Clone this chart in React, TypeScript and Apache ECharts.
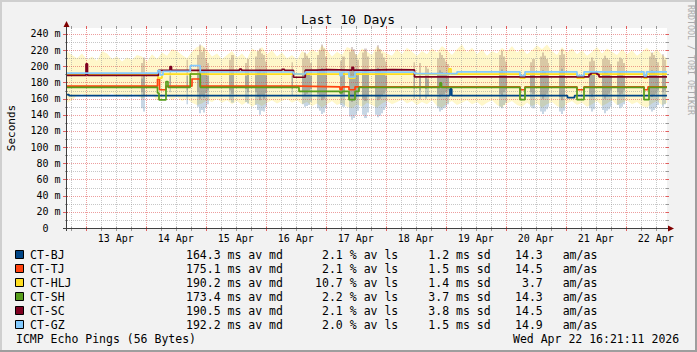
import React, { useEffect, useRef } from 'react';
import * as echarts from 'echarts';

const FONT = '"DejaVu Sans Mono", monospace';

const TITLE = 'Last 10 Days';
const Y_TITLE = 'Seconds';
const WATERMARK = 'RRDTOOL / TOBI OETIKER';
const FOOT_LEFT = 'ICMP Echo Pings (56 Bytes)';
const FOOT_RIGHT = 'Wed Apr 22 16:21:11 2026';

// x = hours since window start (Apr 12 ~16:30), 240 h wide
const SPAN_HOURS = 240;
const FIRST_MIDNIGHT = 7.5;
const Y_MAX = 247.4;
const Y_TICK = 20;
const SMOKE_STEP = 2;

const dayLabels = ['13 Apr', '14 Apr', '15 Apr', '16 Apr', '17 Apr', '18 Apr', '19 Apr', '20 Apr', '21 Apr', '22 Apr'];

const hosts = ['CT-BJ', 'CT-TJ', 'CT-HLJ', 'CT-SH', 'CT-SC', 'CT-GZ'];
const hostColors = ['#004586', '#ff420e', '#ffde20', '#579d1c', '#7e0021', '#83caff'];
const medianMs = ['164.3', '175.1', '190.2', '173.4', '190.5', '192.2'];
const lossPct = ['2.1', '2.1', '10.7', '2.2', '2.1', '2.0'];
const sdMs = ['1.2', '1.5', '1.4', '3.7', '3.8', '1.5'];
const amAs = ['14.3', '14.5', '3.7', '14.3', '14.5', '14.9'];

// median lines: [hour, ms] (value holds until next point)
const bjMedian = [[0, 165.0], [0.8, 163.7], [153.2, 172.0], [153.9, 163.7], [200.2, 161.2], [203.0, 163.7], [240, 163.7]];
const tjMedian = [[0, 175.4], [36.2, 184.3], [37.0, 171.0], [39.6, 175.4], [50.0, 184.3], [53.3, 175.4], [92.8, 174.6], [109.2, 171.2], [110.0, 174.6], [112.8, 171.0], [115.2, 174.6], [181.2, 171.0], [183.2, 174.6], [204.0, 171.0], [206.8, 174.6], [230.8, 171.0], [232.4, 174.6], [240, 174.6]];
const hljMedian = [[0, 190.3], [36.4, 185.5], [38.0, 190.3], [112.8, 185.5], [115.2, 190.3], [152.8, 197.0], [153.6, 190.3], [181.2, 185.5], [183.2, 190.3], [204.0, 185.5], [206.8, 190.3], [230.8, 185.5], [232.0, 190.3], [240, 190.3]];
const shMedian = [[0, 174.0], [36.2, 167.0], [36.8, 158.5], [39.6, 181.2], [40.4, 174.0], [49.3, 190.5], [53.3, 174.0], [92.8, 169.0], [109.2, 167.0], [110.0, 169.0], [112.8, 158.7], [115.2, 169.0], [116.8, 174.0], [149.2, 179.4], [149.8, 174.0], [181.2, 158.7], [183.2, 174.0], [204.0, 158.7], [206.8, 174.0], [230.8, 158.7], [232.8, 174.0], [240, 174.0]];
const scMedian = [[0, 188.8], [7.6, 203.0], [8.2, 188.8], [36.6, 195.0], [41.2, 199.8], [41.8, 195.0], [69.0, 196.5], [69.8, 195.0], [86.0, 196.2], [87.0, 195.0], [90.6, 186.5], [95.3, 195.2], [100.0, 196.0], [104.0, 195.2], [114.0, 198.7], [114.6, 195.4], [121.0, 196.0], [130.0, 195.5], [139.0, 187.0], [208.8, 190.0], [209.6, 192.0], [212.0, 190.0], [212.8, 187.0], [240, 187.0]];
const gzMedian = [[0, 191.5], [36.4, 194.8], [37.2, 189.5], [38.4, 193.8], [49.3, 200.8], [53.3, 193.0], [90.6, 190.5], [95.3, 193.0], [109.2, 188.4], [110.0, 193.0], [112.8, 186.8], [115.2, 192.8], [139.0, 191.0], [156.0, 193.2], [181.2, 188.4], [183.2, 193.2], [204.0, 188.4], [206.8, 193.2], [230.8, 188.2], [231.8, 193.2], [240, 193.2]];
const medians = [bjMedian, tjMedian, hljMedian, shMedian, scMedian, gzMedian];

// CT-HLJ smoke band, one value every SMOKE_STEP hours
const hljSmokeHi = [
  218, 214, 210, 216, 208, 212, 207, 219, 216, 209,
  212, 206, 211, 208, 214, 212, 206, 215, 209, 217,
  213, 221, 219, 214, 210, 218, 224, 226, 220, 212,
  216, 209, 214, 219, 211, 216, 209, 222, 218, 224,
  215, 220, 212, 217, 210, 214, 208, 219, 215, 221,
  217, 226, 220, 212, 218, 214, 224, 221, 213, 222,
  218, 214, 225, 219, 216, 213, 221, 215, 223, 218,
  213, 219, 215, 222, 217, 225, 220, 214, 221, 227,
  217, 223, 215, 221, 213, 219, 216, 223, 218, 225,
  217, 222, 215, 220, 226, 221, 227, 219, 214, 224,
  217, 222, 215, 220, 213, 218, 224, 216, 222, 218,
  214, 221, 215, 220, 213, 218, 223, 216, 221, 214,
  210,
];
const hljSmokeLo = [
  155, 158, 164, 166, 163, 165, 162, 166, 164, 167,
  163, 165, 161, 166, 164, 160, 163, 165, 158, 160,
  164, 158, 162, 157, 160, 155, 152, 154, 158, 156,
  160, 155, 158, 153, 157, 152, 156, 150, 154, 151,
  155, 158, 154, 157, 160, 155, 158, 153, 156, 151,
  154, 149, 153, 157, 152, 155, 150, 148, 153, 150,
  155, 152, 149, 154, 157, 153, 156, 159, 154, 157,
  152, 156, 153, 158, 151, 149, 154, 157, 152, 155,
  158, 153, 156, 151, 155, 158, 152, 149, 154, 157,
  152, 150, 155, 151, 154, 149, 153, 156, 151, 148,
  154, 157, 152, 155, 150, 153, 157, 151, 154, 158,
  152, 155, 158, 153, 156, 151, 149, 154, 157, 152,
  155,
];

// smoke bursts: [fromHour, toHour, lowMs, highMs]
const scSmoke = [
  [29.6, 30.4, 168, 204], [30.4, 31.2, 164, 211], [41.0, 41.6, 176, 199], [47.8, 48.4, 170, 208],
  [52.0, 52.8, 168, 214], [52.8, 53.6, 160, 227], [53.6, 54.4, 164, 218], [54.4, 55.2, 161, 223], [55.2, 56.0, 167, 210], [56.0, 56.8, 170, 204],
  [64.8, 65.6, 170, 208], [65.6, 66.8, 166, 214], [71.2, 72.0, 172, 204], [72.0, 72.8, 168, 209],
  [75.2, 76.0, 168, 212], [76.0, 76.8, 162, 219], [76.8, 77.6, 158, 222], [77.6, 78.4, 163, 216], [78.4, 79.2, 160, 214], [79.2, 80.0, 167, 206],
  [89.8, 90.4, 172, 205],
  [94.0, 94.8, 168, 210], [94.8, 95.6, 164, 217], [95.6, 96.4, 166, 213], [96.4, 97.2, 170, 210], [97.2, 98.0, 172, 204],
  [100.0, 100.8, 166, 214], [100.8, 101.6, 162, 220], [101.6, 102.4, 158, 227], [102.4, 103.2, 160, 222], [103.2, 104.0, 165, 212],
  [109.2, 110.0, 168, 207], [110.0, 111.2, 165, 212],
  [112.8, 113.6, 160, 218], [113.6, 114.4, 156, 224], [114.4, 115.2, 158, 221], [115.2, 116.0, 161, 215], [116.0, 116.8, 166, 208],
  [118.0, 118.8, 160, 217], [118.8, 120.0, 157, 222], [120.0, 120.8, 163, 212],
  [123.2, 124.0, 162, 218], [124.0, 124.8, 158, 226], [124.8, 125.6, 160, 221], [125.6, 126.4, 163, 216], [126.4, 127.2, 166, 211], [127.2, 128.0, 170, 206],
  [138.6, 139.2, 172, 205], [140.8, 141.6, 170, 204], [143.2, 144.0, 172, 200], [144.0, 144.8, 174, 197],
  [148.0, 148.8, 166, 210], [148.8, 149.6, 162, 217], [149.6, 150.4, 164, 214], [150.4, 151.2, 165, 210], [151.2, 152.0, 168, 206], [152.0, 152.8, 170, 203],
  [172.8, 173.6, 166, 214], [173.6, 174.4, 164, 219], [174.4, 175.2, 168, 212], [175.2, 176.0, 171, 206],
  [185.2, 186.0, 168, 205], [186.0, 187.2, 166, 209],
  [189.2, 190.0, 164, 212], [190.0, 190.8, 160, 217], [190.8, 191.6, 163, 213], [191.6, 192.4, 166, 209], [192.4, 192.8, 170, 204],
  [196.8, 197.6, 162, 214], [197.6, 198.4, 158, 221], [198.4, 199.2, 163, 215],
  [208.8, 209.6, 166, 206], [209.6, 210.4, 162, 211], [210.4, 211.2, 166, 207],
  [214.0, 214.8, 164, 209], [214.8, 215.6, 160, 213], [215.6, 216.4, 163, 210], [216.4, 217.2, 166, 208], [217.2, 218.0, 170, 203],
  [220.0, 220.8, 168, 206], [220.8, 221.6, 165, 211], [221.6, 222.4, 166, 209], [222.4, 223.2, 170, 204],
  [232.8, 233.6, 165, 212], [233.6, 234.4, 162, 217], [234.4, 235.2, 164, 214], [235.2, 236.0, 166, 210], [236.0, 236.8, 170, 205],
  [238.0, 238.8, 168, 215], [238.8, 239.6, 170, 208],
];
const bjSmoke = [
  [29.6, 30.4, 148, 185], [30.4, 31.2, 144, 190], [41.0, 41.6, 168, 188], [47.8, 48.4, 153, 188],
  [52.0, 52.8, 150, 190], [52.8, 53.6, 142, 197], [53.6, 54.4, 146, 193], [54.4, 55.2, 143, 195], [55.2, 56.0, 149, 191], [56.0, 56.8, 153, 188],
  [64.8, 65.6, 158, 189], [65.6, 66.8, 155, 192], [71.2, 72.0, 156, 188], [72.0, 72.8, 154, 191],
  [75.2, 76.0, 152, 189], [76.0, 76.8, 146, 193], [76.8, 77.6, 140, 196], [77.6, 78.4, 145, 192], [78.4, 79.2, 144, 193], [79.2, 80.0, 150, 189],
  [89.8, 90.4, 164, 188],
  [94.0, 94.8, 153, 190], [94.8, 95.6, 150, 194], [95.6, 96.4, 151, 192], [96.4, 97.2, 152, 190], [97.2, 98.0, 156, 188],
  [100.0, 100.8, 148, 192], [100.8, 101.6, 145, 195], [101.6, 102.4, 141, 198], [102.4, 103.2, 143, 196], [103.2, 104.0, 148, 191],
  [109.2, 110.0, 152, 189], [110.0, 111.2, 150, 192],
  [112.8, 113.6, 138, 194], [113.6, 114.4, 134, 197], [114.4, 115.2, 136, 196], [115.2, 116.0, 140, 192], [116.0, 116.8, 145, 189],
  [118.0, 118.8, 140, 193], [118.8, 120.0, 136, 196], [120.0, 120.8, 143, 191],
  [123.2, 124.0, 140, 194], [124.0, 124.8, 137, 198], [124.8, 125.6, 139, 196], [125.6, 126.4, 142, 193], [126.4, 127.2, 146, 191], [127.2, 128.0, 150, 188],
  [138.6, 139.2, 160, 188], [140.8, 141.6, 159, 186], [143.2, 144.0, 160, 186], [144.0, 144.8, 163, 184],
  [148.0, 148.8, 148, 192], [148.8, 149.6, 144, 195], [149.6, 150.4, 146, 193], [150.4, 151.2, 148, 191], [151.2, 152.0, 150, 190], [152.0, 152.8, 153, 188],
  [172.8, 173.6, 150, 193], [173.6, 174.4, 148, 196], [174.4, 175.2, 152, 192], [175.2, 176.0, 155, 189],
  [185.2, 186.0, 150, 189], [186.0, 187.2, 148, 191],
  [189.2, 190.0, 144, 192], [190.0, 190.8, 141, 195], [190.8, 191.6, 144, 193], [191.6, 192.4, 147, 190], [192.4, 192.8, 150, 188],
  [196.8, 197.6, 144, 194], [197.6, 198.4, 141, 197], [198.4, 199.2, 145, 193],
  [208.8, 209.6, 148, 190], [209.6, 210.4, 144, 192], [210.4, 211.2, 147, 190],
  [214.0, 214.8, 146, 191], [214.8, 215.6, 142, 194], [215.6, 216.4, 145, 192], [216.4, 217.2, 147, 190], [217.2, 218.0, 150, 188],
  [220.0, 220.8, 152, 189], [220.8, 221.6, 148, 192], [221.6, 222.4, 150, 191], [222.4, 223.2, 153, 188],
  [232.8, 233.6, 147, 192], [233.6, 234.4, 144, 195], [234.4, 235.2, 146, 193], [235.2, 236.0, 149, 191], [236.0, 236.8, 152, 188],
  [238.0, 238.8, 150, 192], [238.8, 239.6, 153, 189],
];

// grid positions
const vGrid: number[][] = [];
for (let k = 0, h = FIRST_MIDNIGHT - 6; h <= SPAN_HOURS; h += 6, k++) vGrid.push([h, 0, k % 4 === 1 ? 1 : 0]);
const hGrid: number[][] = [];
for (let v = 10; v <= 240; v += 10) hGrid.push([0, v, v % Y_TICK === 0 ? 1 : 0]);
const noonHours = dayLabels.map((_, k) => FIRST_MIDNIGHT + 12 + 24 * k);

const MAJOR = 'rgba(222,79,79,0.55)';
const MINOR = 'rgba(143,143,143,0.5)';
const MAJOR_T = 'rgba(222,79,79,0.9)';
const MINOR_T = 'rgba(143,143,143,0.9)';

function txt(text: string, x: number, y: number, o: any = {}) {
  return {
    type: 'text', x, y, rotation: o.rot || 0, silent: true, z: 100,
    style: {
      text, fill: o.color || '#000', fontSize: o.size || 11.5, fontFamily: FONT,
      align: o.align || 'left', verticalAlign: 'middle',
    },
  };
}

function buildOption() {
  const graphic: any[] = [
    { type: 'rect', silent: true, shape: { x: 0, y: 0, width: 697, height: 2 }, style: { fill: '#cfcfcf' } },
    { type: 'rect', silent: true, shape: { x: 0, y: 0, width: 2, height: 352 }, style: { fill: '#cfcfcf' } },
    { type: 'rect', silent: true, shape: { x: 0, y: 350, width: 697, height: 2 }, style: { fill: '#9e9e9e' } },
    { type: 'rect', silent: true, shape: { x: 695, y: 0, width: 2, height: 352 }, style: { fill: '#9e9e9e' } },
    { type: 'line', silent: true, z: 100, shape: { x1: 66.5, y1: 231, x2: 66.5, y2: 26 }, style: { stroke: '#404040', lineWidth: 1 } },
    { type: 'line', silent: true, z: 100, shape: { x1: 63, y1: 228.5, x2: 669, y2: 228.5 }, style: { stroke: '#404040', lineWidth: 1 } },
    { type: 'polygon', silent: true, z: 100, shape: { points: [[66.5, 21], [63.5, 27], [69.5, 27]] }, style: { fill: '#800000' } },
    { type: 'polygon', silent: true, z: 100, shape: { points: [[674, 228.5], [668, 225.5], [668, 231.5]] }, style: { fill: '#800000' } },
    txt(TITLE, 348, 19.5, { size: 13, align: 'center' }),
    txt(Y_TITLE, 11, 128, { size: 11, align: 'center', rot: Math.PI / 2 }),
    txt(WATERMARK, 690.5, 60, { size: 8.3, align: 'center', rot: -Math.PI / 2, color: '#aaaaaa' }),
    txt(FOOT_LEFT, 16, 338.5),
    txt(FOOT_RIGHT, 513, 338.5),
  ];
  hosts.forEach((name, i) => {
    const y = 254.5 + 14 * i;
    graphic.push({ type: 'rect', silent: true, z: 100, shape: { x: 15.5, y: y - 4, width: 8, height: 8 }, style: { fill: hostColors[i], stroke: '#000', lineWidth: 1 } });
    graphic.push(txt(name, 30, y));
    graphic.push(txt(`${medianMs[i]} ms av md`, 186, y));
    graphic.push(txt(lossPct[i], 342.8, y, { align: 'right' }));
    graphic.push(txt('% av ls', 349.8, y));
    graphic.push(txt(`${sdMs[i]} ms sd`, 428.3, y));
    graphic.push(txt(amAs[i], 542.8, y, { align: 'right' }));
    graphic.push(txt('am/as', 562.7, y));
  });

  const rectSeries = (data: number[][], color: string, z: number) => ({
    type: 'custom', data, z, silent: true, clip: true, encode: { x: [0, 1], y: [2, 3] },
    renderItem: (params: any, api: any) => {
      const p0 = api.coord([api.value(0), api.value(3)]);
      const p1 = api.coord([api.value(1), api.value(2)]);
      return { type: 'rect', shape: { x: p0[0], y: p0[1], width: Math.max(1, p1[0] - p0[0]), height: p1[1] - p0[1] }, style: { fill: color } };
    },
  });

  const series: any[] = [
    {
      type: 'custom', data: [[0, 0]], z: 1, silent: true, clip: true, encode: { x: 0, y: 1 },
      renderItem: (params: any, api: any) => {
        const pts: number[][] = [];
        for (let i = 0; i < hljSmokeHi.length; i++) pts.push(api.coord([i * SMOKE_STEP, hljSmokeHi[i]]));
        for (let i = hljSmokeLo.length - 1; i >= 0; i--) pts.push(api.coord([i * SMOKE_STEP, hljSmokeLo[i]]));
        return { type: 'polygon', shape: { points: pts }, style: { fill: 'rgba(255,222,32,0.24)' } };
      },
    },
    rectSeries(scSmoke, 'rgba(105,60,55,0.25)', 2),
    rectSeries(bjSmoke, 'rgba(0,69,134,0.22)', 2),
    {
      type: 'custom', data: vGrid, z: 3, silent: true, clip: false, encode: { x: 0, y: 1 },
      renderItem: (params: any, api: any) => {
        const cs = params.coordSys;
        const x = Math.round(api.coord([api.value(0), 0])[0]) + 0.5;
        const major = api.value(2) === 1;
        const c = major ? MAJOR : MINOR;
        const t = major ? MAJOR_T : MINOR_T;
        const top = cs.y, bot = cs.y + cs.height;
        return {
          type: 'group', children: [
            { type: 'line', shape: { x1: x, y1: top, x2: x, y2: bot }, style: { stroke: c, lineWidth: 1, lineDash: [1, 1] } },
            { type: 'line', shape: { x1: x, y1: top - 2, x2: x, y2: top + 1 }, style: { stroke: t, lineWidth: 1 } },
            { type: 'line', shape: { x1: x, y1: bot - 1, x2: x, y2: bot + 3 }, style: { stroke: t, lineWidth: 1 } },
          ],
        };
      },
    },
    {
      type: 'custom', data: hGrid, z: 3, silent: true, clip: false, encode: { x: 0, y: 1 },
      renderItem: (params: any, api: any) => {
        const cs = params.coordSys;
        const y = Math.round(api.coord([0, api.value(1)])[1]) + 0.5;
        const major = api.value(2) === 1;
        const c = major ? MAJOR : MINOR;
        const t = major ? MAJOR_T : MINOR_T;
        const l = cs.x, r = cs.x + cs.width;
        return {
          type: 'group', children: [
            { type: 'line', shape: { x1: l, y1: y, x2: r, y2: y }, style: { stroke: c, lineWidth: 1, lineDash: [1, 1] } },
            { type: 'line', shape: { x1: l - (major ? 4 : 2), y1: y, x2: l + 1, y2: y }, style: { stroke: t, lineWidth: 1 } },
            { type: 'line', shape: { x1: r - 1, y1: y, x2: r + 2, y2: y }, style: { stroke: t, lineWidth: 1 } },
          ],
        };
      },
    },
    ...medians.map((data, i) => ({
      type: 'line', name: hosts[i], data, step: 'end', symbol: 'none', showSymbol: false,
      lineStyle: { color: hostColors[i], width: 1.7 }, itemStyle: { color: hostColors[i] },
      z: 5, silent: true,
    })),
  ];

  return {
    animation: false,
    backgroundColor: '#f2f2f2',
    grid: { left: 67, top: 28, width: 600, height: 200, show: true, backgroundColor: '#ffffff', borderWidth: 0, containLabel: false, outerBoundsMode: 'none' },
    xAxis: {
      type: 'value', min: 0, max: SPAN_HOURS,
      axisLine: { show: false }, axisTick: { show: false }, splitLine: { show: false },
      axisLabel: {
        customValues: noonHours, hideOverlap: false,
        formatter: (v: number) => dayLabels[Math.round((v - noonHours[0]) / 24)] || '',
        fontFamily: FONT, fontSize: 10, color: '#000', margin: 5,
      },
    },
    yAxis: {
      type: 'value', min: 0, max: Y_MAX, interval: Y_TICK,
      axisLine: { show: false }, axisTick: { show: false }, splitLine: { show: false },
      axisLabel: {
        fontFamily: FONT, fontSize: 10, color: '#000', margin: 6.5, showMaxLabel: false,
        formatter: (v: number) => (v === 0 ? '{z|0}' : v % Y_TICK === 0 ? `${v} m` : ''),
        rich: { z: { fontFamily: FONT, fontSize: 10, color: '#000', padding: [0, 12, 0, 0] } },
      },
    },
    graphic,
    series,
  };
}

export default function App() {
  const ref = useRef<HTMLDivElement>(null);
  useEffect(() => {
    if (!ref.current) return;
    const chart = echarts.init(ref.current, null, { renderer: 'svg' });
    chart.setOption(buildOption() as any);
    return () => chart.dispose();
  }, []);
  return (
    <div style={{ position: 'fixed', left: 0, top: 0, width: 697, height: 352 }}>
      <div ref={ref} style={{ width: 697, height: 352 }} />
    </div>
  );
}
